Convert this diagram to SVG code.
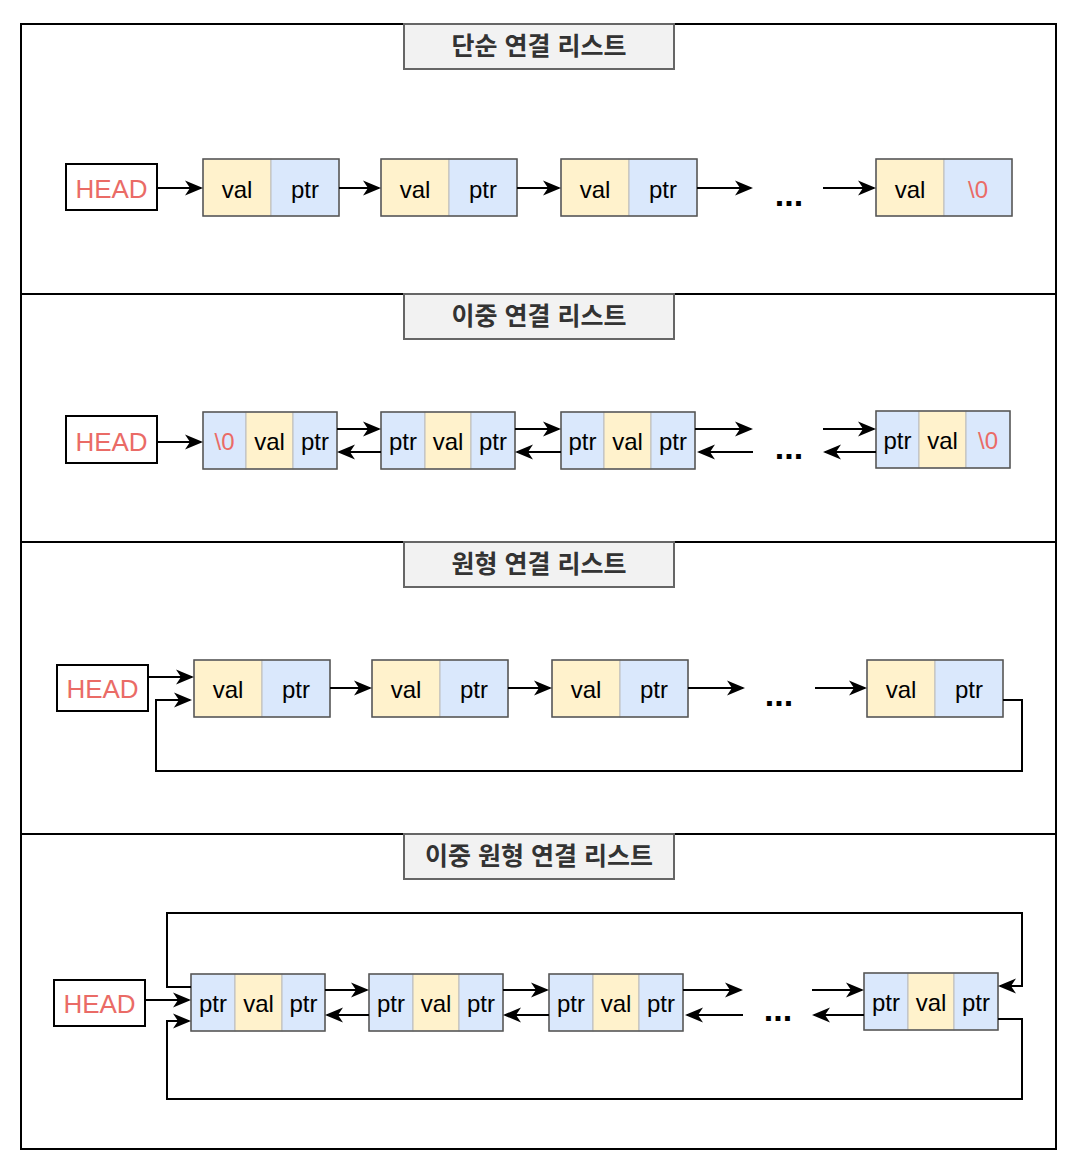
<svg xmlns="http://www.w3.org/2000/svg" width="1087" height="1173" viewBox="0 0 1087 1173">
<style>
.sec{fill:#fff;stroke:#000;stroke-width:2}
.ttl{fill:#f2f2f2;stroke:#666;stroke-width:2}
.tt{font-family:"Liberation Sans","Noto Sans CJK KR",sans-serif;font-size:25px;font-weight:bold;fill:#333;text-anchor:middle}
.hd{fill:#fff;stroke:#000;stroke-width:2}
.ht{font-family:"Liberation Sans",Arial,sans-serif;font-size:26px;fill:#ea6b66;text-anchor:middle}
.v{fill:#fff2cc;stroke:#bbb;stroke-width:1}
.p{fill:#dae8fc;stroke:#bbb;stroke-width:1}
.o{fill:none;stroke:#555;stroke-width:1.5}
.t{font-family:"Liberation Sans",Arial,sans-serif;font-size:24px;fill:#000;text-anchor:middle}
.z{fill:#ea6b66}
.dots{font-family:"Liberation Sans",Arial,sans-serif;font-size:34px;font-weight:bold;fill:#000;text-anchor:middle}
.c{fill:none;stroke:#000;stroke-width:2;marker-end:url(#arr)}
</style>
<defs>
<marker id="arr" markerUnits="userSpaceOnUse" markerWidth="18" markerHeight="18" viewBox="0 0 18 18" refX="16" refY="9" orient="auto">
<path d="M0,1.5 L18,9 L0,16.5 L5,9 Z" fill="#000"/>
</marker>
</defs>
<rect width="1087" height="1173" fill="#fff"/>
<g id="sections">
<rect class="sec" x="21" y="24" width="1035" height="270"/>
<rect class="sec" x="21" y="294" width="1035" height="248"/>
<rect class="sec" x="21" y="542" width="1035" height="292"/>
<rect class="sec" x="21" y="834" width="1035" height="315"/>
</g>
<g id="title1"><rect class="ttl" x="404" y="24" width="270" height="45"/><text class="tt" x="539" y="55">단순 연결 리스트</text></g>
<g id="title2"><rect class="ttl" x="404" y="294" width="270" height="45"/><text class="tt" x="539" y="325">이중 연결 리스트</text></g>
<g id="title3"><rect class="ttl" x="404" y="542" width="270" height="45"/><text class="tt" x="539" y="573">원형 연결 리스트</text></g>
<g id="title4"><rect class="ttl" x="404" y="834" width="270" height="45"/><text class="tt" x="539" y="865">이중 원형 연결 리스트</text></g>

<!-- Section 1 -->
<g id="s1-head"><rect class="hd" x="66" y="164" width="91" height="46"/><text class="ht" x="111.5" y="198">HEAD</text></g>
<g id="s1-n1"><rect class="v" x="203" y="159" width="68" height="57"/><rect class="p" x="271" y="159" width="68" height="57"/><rect class="o" x="203" y="159" width="136" height="57"/><text class="t" x="237" y="198">val</text><text class="t" x="305" y="198">ptr</text></g>
<g id="s1-n2"><rect class="v" x="381" y="159" width="68" height="57"/><rect class="p" x="449" y="159" width="68" height="57"/><rect class="o" x="381" y="159" width="136" height="57"/><text class="t" x="415" y="198">val</text><text class="t" x="483" y="198">ptr</text></g>
<g id="s1-n3"><rect class="v" x="561" y="159" width="68" height="57"/><rect class="p" x="629" y="159" width="68" height="57"/><rect class="o" x="561" y="159" width="136" height="57"/><text class="t" x="595" y="198">val</text><text class="t" x="663" y="198">ptr</text></g>
<g id="s1-n4"><rect class="v" x="876" y="159" width="68" height="57"/><rect class="p" x="944" y="159" width="68" height="57"/><rect class="o" x="876" y="159" width="136" height="57"/><text class="t" x="910" y="198">val</text><text class="t z" x="978" y="198">\0</text></g>
<text id="s1-dots" class="dots" x="789" y="206">...</text>

<!-- Section 2 -->
<g id="s2-head"><rect class="hd" x="66" y="416" width="91" height="47"/><text class="ht" x="111.5" y="451">HEAD</text></g>
<g id="s2-n1"><rect class="p" x="203" y="412" width="43" height="57"/><rect class="v" x="246" y="412" width="47" height="57"/><rect class="p" x="293" y="412" width="44" height="57"/><rect class="o" x="203" y="412" width="134" height="57"/><text class="t z" x="224.5" y="450">\0</text><text class="t" x="269.5" y="450">val</text><text class="t" x="315" y="450">ptr</text></g>
<g id="s2-n2"><rect class="p" x="381" y="412" width="44" height="57"/><rect class="v" x="425" y="412" width="46" height="57"/><rect class="p" x="471" y="412" width="44" height="57"/><rect class="o" x="381" y="412" width="134" height="57"/><text class="t" x="403" y="450">ptr</text><text class="t" x="448" y="450">val</text><text class="t" x="493" y="450">ptr</text></g>
<g id="s2-n3"><rect class="p" x="561" y="412" width="43" height="57"/><rect class="v" x="604" y="412" width="47" height="57"/><rect class="p" x="651" y="412" width="44" height="57"/><rect class="o" x="561" y="412" width="134" height="57"/><text class="t" x="582.5" y="450">ptr</text><text class="t" x="627.5" y="450">val</text><text class="t" x="673" y="450">ptr</text></g>
<g id="s2-n4"><rect class="p" x="876" y="411" width="43" height="57"/><rect class="v" x="919" y="411" width="47" height="57"/><rect class="p" x="966" y="411" width="44" height="57"/><rect class="o" x="876" y="411" width="134" height="57"/><text class="t" x="897.5" y="449">ptr</text><text class="t" x="942.5" y="449">val</text><text class="t z" x="988" y="449">\0</text></g>
<text id="s2-dots" class="dots" x="789" y="459">...</text>

<!-- Section 3 -->
<g id="s3-head"><rect class="hd" x="57" y="665" width="91" height="46"/><text class="ht" x="102.5" y="698">HEAD</text></g>
<g id="s3-n1"><rect class="v" x="194" y="660" width="68" height="57"/><rect class="p" x="262" y="660" width="68" height="57"/><rect class="o" x="194" y="660" width="136" height="57"/><text class="t" x="228" y="698">val</text><text class="t" x="296" y="698">ptr</text></g>
<g id="s3-n2"><rect class="v" x="372" y="660" width="68" height="57"/><rect class="p" x="440" y="660" width="68" height="57"/><rect class="o" x="372" y="660" width="136" height="57"/><text class="t" x="406" y="698">val</text><text class="t" x="474" y="698">ptr</text></g>
<g id="s3-n3"><rect class="v" x="552" y="660" width="68" height="57"/><rect class="p" x="620" y="660" width="68" height="57"/><rect class="o" x="552" y="660" width="136" height="57"/><text class="t" x="586" y="698">val</text><text class="t" x="654" y="698">ptr</text></g>
<g id="s3-n4"><rect class="v" x="867" y="660" width="68" height="57"/><rect class="p" x="935" y="660" width="68" height="57"/><rect class="o" x="867" y="660" width="136" height="57"/><text class="t" x="901" y="698">val</text><text class="t" x="969" y="698">ptr</text></g>
<text id="s3-dots" class="dots" x="779" y="706">...</text>

<!-- Section 4 -->
<g id="s4-head"><rect class="hd" x="54" y="980" width="91" height="46"/><text class="ht" x="99.5" y="1013">HEAD</text></g>
<g id="s4-n1"><rect class="p" x="191" y="974" width="44" height="57"/><rect class="v" x="235" y="974" width="47" height="57"/><rect class="p" x="282" y="974" width="43" height="57"/><rect class="o" x="191" y="974" width="134" height="57"/><text class="t" x="213" y="1012">ptr</text><text class="t" x="258.5" y="1012">val</text><text class="t" x="303.5" y="1012">ptr</text></g>
<g id="s4-n2"><rect class="p" x="369" y="974" width="44" height="57"/><rect class="v" x="413" y="974" width="46" height="57"/><rect class="p" x="459" y="974" width="44" height="57"/><rect class="o" x="369" y="974" width="134" height="57"/><text class="t" x="391" y="1012">ptr</text><text class="t" x="436" y="1012">val</text><text class="t" x="481" y="1012">ptr</text></g>
<g id="s4-n3"><rect class="p" x="549" y="974" width="44" height="57"/><rect class="v" x="593" y="974" width="46" height="57"/><rect class="p" x="639" y="974" width="44" height="57"/><rect class="o" x="549" y="974" width="134" height="57"/><text class="t" x="571" y="1012">ptr</text><text class="t" x="616" y="1012">val</text><text class="t" x="661" y="1012">ptr</text></g>
<g id="s4-n4"><rect class="p" x="864" y="973" width="44" height="57"/><rect class="v" x="908" y="973" width="46" height="57"/><rect class="p" x="954" y="973" width="44" height="57"/><rect class="o" x="864" y="973" width="134" height="57"/><text class="t" x="886" y="1011">ptr</text><text class="t" x="931" y="1011">val</text><text class="t" x="976" y="1011">ptr</text></g>
<text id="s4-dots" class="dots" x="778" y="1021">...</text>

<g id="connectors">
<path class="c" d="M157,188 H201"/>
<path class="c" d="M339,188 H379"/>
<path class="c" d="M517,188 H559"/>
<path class="c" d="M697,188 H751"/>
<path class="c" d="M823,188 H874"/>
<path class="c" d="M157,442 H201"/>
<path class="c" d="M337,429 H379"/>
<path class="c" d="M381,452 H339"/>
<path class="c" d="M515,429 H559"/>
<path class="c" d="M561,452 H517"/>
<path class="c" d="M695,429 H751"/>
<path class="c" d="M753,452 H699"/>
<path class="c" d="M823,429 H874"/>
<path class="c" d="M876,452 H825"/>
<path class="c" d="M148,677 H192"/>
<path class="c" d="M330,688 H370"/>
<path class="c" d="M508,688 H550"/>
<path class="c" d="M688,688 H743"/>
<path class="c" d="M815,688 H865"/>
<path class="c" d="M1003,700 H1022 V771 H156 V700 H190"/>
<path class="c" d="M145,1000 H189"/>
<path class="c" d="M325,990 H367"/>
<path class="c" d="M369,1015 H327"/>
<path class="c" d="M503,990 H547"/>
<path class="c" d="M549,1015 H505"/>
<path class="c" d="M683,990 H741"/>
<path class="c" d="M743,1015 H687"/>
<path class="c" d="M812,990 H862"/>
<path class="c" d="M864,1015 H814"/>
<path class="c" d="M191,987 H167 V913 H1022 V986 H1000"/>
<path class="c" d="M998,1019 H1022 V1099 H167 V1021 H189"/>
</g>
</svg>
